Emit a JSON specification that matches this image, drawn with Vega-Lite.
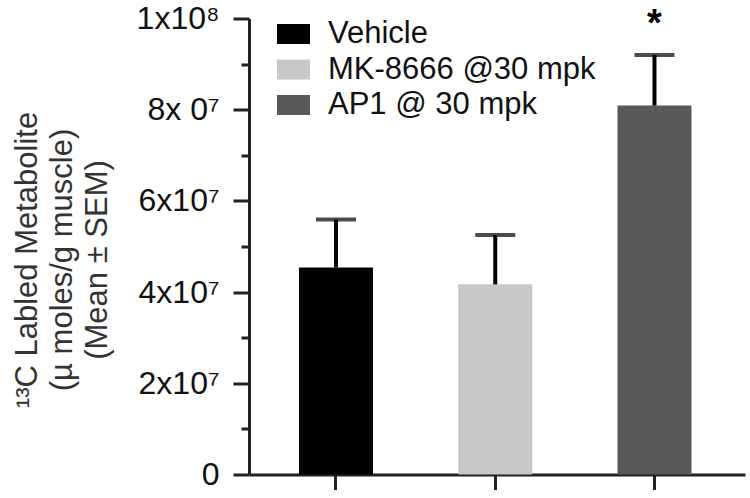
{
  "$schema": "https://vega.github.io/schema/vega-lite/v6.json",
  "autosize": {"type": "none"},
  "padding": {"left": 249, "top": 18.5, "right": 5, "bottom": 24},
  "width": 496,
  "height": 456,
  "config": {
    "font": "Liberation Sans",
    "view": {"stroke": null},
    "axis": {"domainColor": "#222", "tickColor": "#222", "domainWidth": 3, "tickWidth": 3, "grid": false}
  },
  "data": {
    "values": [
      {"group": "Vehicle", "mean": 45400000, "upper": 55900000, "sig": ""},
      {"group": "MK-8666 @30 mpk", "mean": 41700000, "upper": 52500000, "sig": ""},
      {"group": "AP1 @ 30 mpk", "mean": 80900000, "upper": 92000000, "sig": "*"}
    ]
  },
  "encoding": {
    "x": {
      "field": "group", "type": "nominal", "sort": null,
      "scale": {"paddingInner": 0.5353, "paddingOuter": 0.325, "align": 0.483},
      "axis": {"labels": false, "title": null, "tickSize": 15}
    }
  },
  "layer": [
    {
      "mark": {"type": "bar"},
      "encoding": {
        "y": {
          "field": "mean", "type": "quantitative",
          "scale": {"domain": [0, 100000000], "nice": false, "zero": true},
          "axis": {
            "values": [0, 10000000, 20000000, 30000000, 40000000, 50000000, 60000000, 70000000, 80000000, 90000000, 100000000],
            "labelExpr": "datum.value == 100000000 ? '1x10⁸' : datum.value == 80000000 ? '8x 0⁷' : datum.value == 60000000 ? '6x10⁷' : datum.value == 40000000 ? '4x10⁷' : datum.value == 20000000 ? '2x10⁷' : datum.value == 0 ? '0' : ''",
            "tickSize": {"condition": {"test": "datum.value % 20000000 == 0", "value": 16}, "value": 8},
            "labelFontSize": 32,
            "labelColor": "#111",
            "labelPadding": 14,
            "labelFlush": false,
            "labelOverlap": false,
            "title": ["¹³C Labled Metabolite", "(µ moles/g muscle)", "(Mean ± SEM)"],
            "titleFontSize": 31,
            "titleFontWeight": "normal",
            "titleColor": "#333",
            "titleLineHeight": 35,
            "titleAngle": -90,
            "titleAlign": "center",
            "titleBaseline": "middle",
            "titleX": -222,
            "titleY": 241
          }
        },
        "color": {
          "field": "group", "type": "nominal",
          "scale": {"domain": ["Vehicle", "MK-8666 @30 mpk", "AP1 @ 30 mpk"], "range": ["#000000", "#c8c8c8", "#585858"]},
          "legend": {
            "title": null,
            "orient": "none",
            "legendX": 28,
            "legendY": -1,
            "padding": 0,
            "symbolType": "M-1,-0.6H1V0.6H-1Z",
            "symbolSize": 1089,
            "symbolStrokeWidth": 0,
            "symbolOpacity": 1,
            "labelFontSize": 31,
            "labelColor": "#111",
            "labelOffset": 18,
            "rowPadding": 3.5,
            "labelLimit": 400
          }
        }
      }
    },
    {
      "mark": {"type": "rule", "color": "#000", "strokeWidth": 4},
      "encoding": {
        "y": {"field": "mean", "type": "quantitative"},
        "y2": {"field": "upper"}
      }
    },
    {
      "mark": {"type": "tick", "color": "#000", "size": 40, "thickness": 4},
      "encoding": {
        "y": {"field": "upper", "type": "quantitative"}
      }
    },
    {
      "mark": {"type": "text", "fontSize": 38, "fontWeight": "bold", "color": "#000", "baseline": "alphabetic", "dy": -19},
      "encoding": {
        "y": {"field": "upper", "type": "quantitative"},
        "text": {"field": "sig"}
      }
    }
  ]
}
